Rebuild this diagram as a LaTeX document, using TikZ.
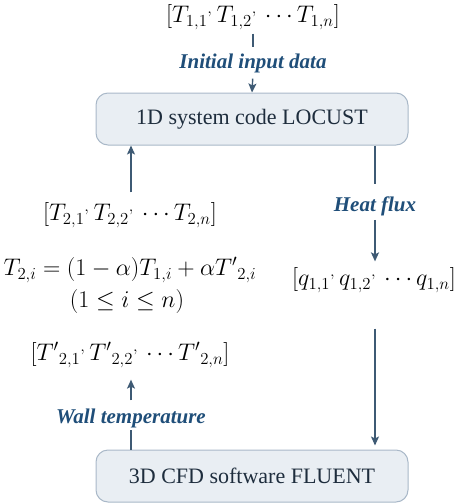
\RequirePackage{fix-cm}
\documentclass[tikz,border=0pt]{standalone}
\usepackage{fontspec}
\setmainfont{Liberation Serif}
\usetikzlibrary{arrows.meta,calc}
\definecolor{boxfill}{HTML}{E9EEF3}
\definecolor{boxdraw}{HTML}{A9B8C8}
\definecolor{conncol}{HTML}{3E5A74}
\definecolor{labcol}{HTML}{1F4E79}
\definecolor{boxtext}{HTML}{1E2D3D}
\newcommand\rc{{}^{,}\mkern3mu}
\begin{document}
\begin{tikzpicture}[x=1pt,y=-1pt,
  sysbox/.style={draw=boxdraw, fill=boxfill, line width=1pt, rounded corners=12pt, minimum width=312pt, minimum height=52pt, font=\fontsize{22}{26}\selectfont, text=boxtext},
  lab/.style={font=\fontsize{21}{25}\selectfont\bfseries\itshape, text=labcol, inner sep=0pt},
  mth/.style={font=\fontsize{24}{28}\selectfont, inner sep=0pt},
  conn/.style={draw=conncol, line width=1.4pt},
  arr/.style={conn, -{Stealth[length=9pt,width=8pt,inset=2pt]}}]
\useasboundingbox (0,0) rectangle (464,504);
\node[sysbox] (loc) at (252,119) {1D system code LOCUST};
\node[sysbox] (flu) at (252,476) {3D CFD software FLUENT};
\node[mth] (t1) at (253,17) {$\Big[T_{1,1}\rc T_{1,2}\rc\cdots T_{1,n}\Big]$};
\node[lab] (init) at (253,63) {Initial input data};
\node[mth] (t2) at (130,215) {$\Big[T_{2,1}\rc T_{2,2}\rc\cdots T_{2,n}\Big]$};
\node[mth] (eq) at (130,270) {$T_{2,i}=(1-\alpha)T_{1,i}+\alpha {T'}_{2,i}$};
\node[mth] (cond) at (127,301) {$(1\le i\le n)$};
\node[mth] (tp) at (130,355) {$\Big[{T'}_{2,1}\rc {T'}_{2,2}\rc\cdots {T'}_{2,n}\Big]$};
\node[lab] (wall) at (131,418) {Wall temperature};
\node[lab] (heat) at (375,206) {Heat flux};
\node[mth] (q) at (374,280) {$\Big[q_{1,1}\rc q_{1,2}\rc\cdots q_{1,n}\Big]$};
\draw[conn, shorten <=4pt, shorten >=6pt] (t1.south -| init.north) -- (init.north);
\draw[arr, shorten <=6pt] (init.south) -- (loc.north);
\draw[arr, shorten <=10pt] (t2.north -| wall.north) -- (wall.north |- loc.south);
\draw[conn, shorten >=12pt] (heat.north |- loc.south) -- (heat.north);
\draw[arr, shorten <=4pt, shorten >=6pt] (heat.south) -- (heat.south |- q.north);
\draw[arr, shorten <=36pt, shorten >=4pt] (heat.south |- q.south) -- (heat.south |- flu.north);
\draw[conn, shorten >=2pt] (wall.south |- flu.north) -- (wall.south);
\draw[arr, shorten <=8pt, shorten >=12pt] (wall.north) -- (wall.north |- tp.south);
\end{tikzpicture}
\end{document}
